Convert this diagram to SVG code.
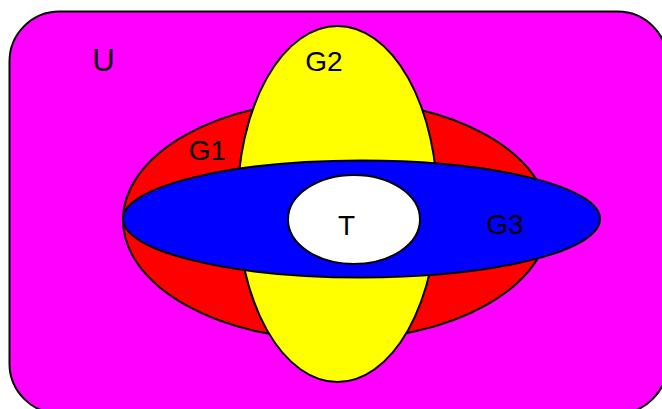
<svg xmlns="http://www.w3.org/2000/svg" width="662" height="409" viewBox="0 0 662 409">
<style>
.s{stroke:#000;stroke-width:2}
.t{font-family:"Liberation Sans",Arial,sans-serif;font-size:28px;fill:#000;text-anchor:middle}
</style>
<g id="U"><rect class="s" x="9.5" y="11.5" width="658" height="402" rx="50" ry="50" fill="#ff00ff"/><text class="t" x="103.5" y="71" style="font-size:31px">U</text></g>
<g id="G1"><ellipse class="s" cx="336" cy="220" rx="213" ry="120" fill="#ff0000"/></g>
<g id="G2"><ellipse class="s" cx="337.5" cy="204" rx="100" ry="178" fill="#ffff00"/></g>
<g id="G3"><ellipse class="s" cx="361.5" cy="219" rx="238.5" ry="58.5" fill="#0000ff"/></g>
<g id="T"><ellipse class="s" cx="354" cy="219.5" rx="66" ry="44.5" fill="#ffffff"/></g>
<g id="labels">
<text class="t" x="207.5" y="160">G1</text>
<text class="t" x="324" y="71">G2</text>
<text class="t" x="505" y="234">G3</text>
<text class="t" x="346.5" y="235">T</text>
</g>
<g id="connectors"/>
</svg>
